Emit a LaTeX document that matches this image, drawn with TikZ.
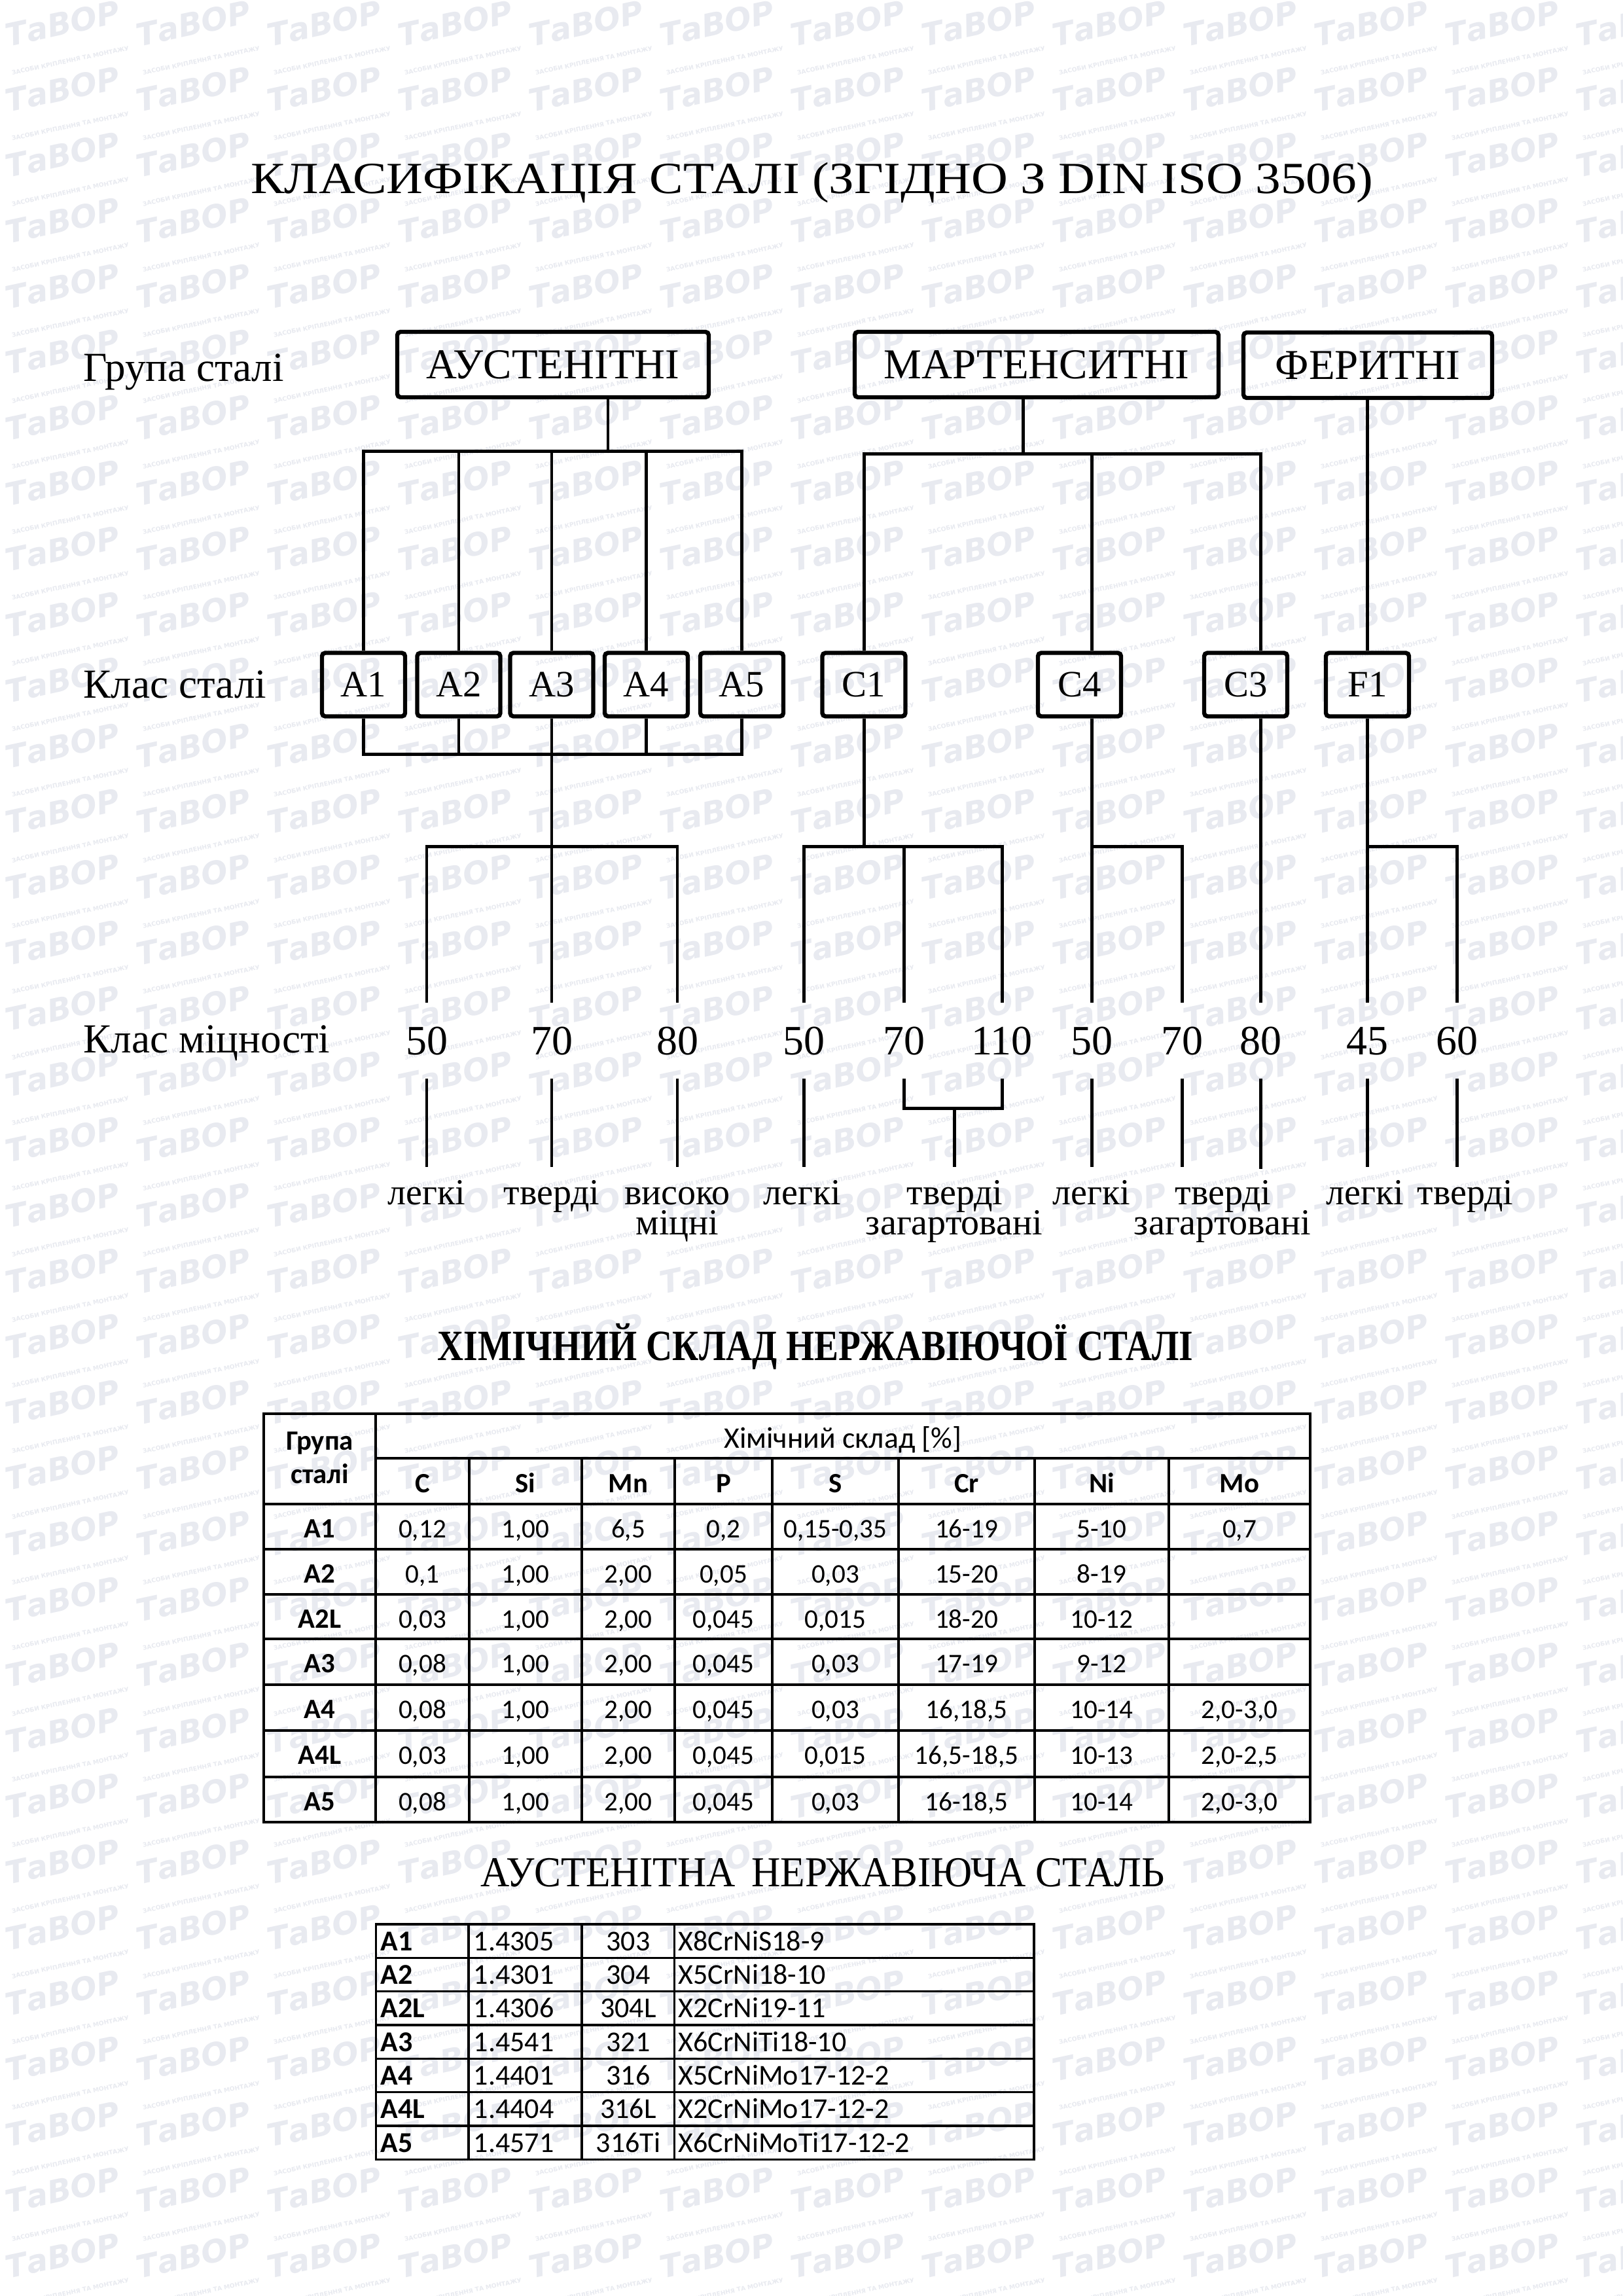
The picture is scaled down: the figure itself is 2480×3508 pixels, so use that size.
\documentclass[tikz,border=0pt]{standalone}
\usepackage{fontspec}
\usepackage{graphicx}
\setmainfont{Liberation Serif}
\newfontfamily\tabfont{Carlito}
\newfontfamily\wmfont{DejaVu Sans}
\definecolor{wmcol}{RGB}{232,234,240}
\newcommand\fgrp{\fontsize{15.66pt}{18pt}\selectfont}
\newcommand\fcls{\fontsize{13.7pt}{16pt}\selectfont}
\newcommand\flab{\fontsize{15.2pt}{18pt}\selectfont}
\newcommand\fnum{\fontsize{15.4pt}{18pt}\selectfont}
\newcommand\fsml{\fontsize{13.5pt}{16pt}\selectfont}
\newcommand\ftab{\tabfont\fontsize{9.9pt}{12pt}\selectfont}
\newcommand\ftabh{\tabfont\fontsize{10.3pt}{12pt}\selectfont}
\newcommand\ftabt{\tabfont\fontsize{10.6pt}{12pt}\selectfont}
\newcommand\fwm{\wmfont\bfseries\itshape\fontsize{11.5pt}{12pt}\selectfont}
\newcommand\fwms{\wmfont\bfseries\fontsize{2.2pt}{2.6pt}\selectfont}
% table 1 row: y, name, C, Si, Mn, P, S, Cr, Ni
\newcommand\trow[9]{%
  \node[tb] (r#2-g) at (488.5,#1) {#2};
  \node[tc] (r#2-c) at (645.5,#1) {#3};
  \node[tc] (r#2-si) at (803,#1) {#4};
  \node[tc] (r#2-mn) at (960,#1) {#5};
  \node[tc] (r#2-p) at (1105.5,#1) {#6};
  \node[tc] (r#2-s) at (1276.5,#1) {#7};
  \node[tc] (r#2-cr) at (1477,#1) {#8};
  \node[tc] (r#2-ni) at (1683.5,#1) {#9};
}
% table 2 row: y, name, number, aisi, grade
\newcommand\trowb[5]{%
  \node[t2b] (q#2-a) at (581,#1) {#2};
  \node[t2l] (q#2-b) at (723,#1) {#3};
  \node[t2c] (q#2-c) at (960,#1) {#4};
  \node[t2l] (q#2-d) at (1036,#1) {#5};
}
\begin{document}
\begin{tikzpicture}[x=0.240931pt,y=-0.240931pt,
  con/.style={line width=1.2pt},
  grpbox/.style={draw, line width=1.55pt, rounded corners=1.2pt, minimum height=24.09pt, inner sep=0pt, font=\fgrp, text height=10.4pt, text depth=0pt},
  clsbox/.style={draw, line width=1.55pt, rounded corners=1.2pt, minimum width=30.6pt, minimum height=23.37pt, inner sep=0pt, font=\fcls, text height=9.07pt, text depth=0pt},
  num/.style={inner sep=0pt, minimum height=27.47pt, font=\fnum, text height=10.4pt, text depth=0pt},
  lbl/.style={inner sep=0pt, anchor=north, font=\fsml, text height=13.73pt, text depth=0pt},
  lbltwo/.style={inner sep=0pt, anchor=base, font=\fsml},
  rowlab/.style={inner sep=0pt, anchor=base west, font=\flab},
  tline/.style={line width=0.8pt},
  tc/.style={inner sep=0pt, anchor=base, font=\ftab},
  tb/.style={inner sep=0pt, anchor=base, font=\ftabh\bfseries},
  t2l/.style={inner sep=0pt, anchor=base west, font=\ftabt},
  t2b/.style={inner sep=0pt, anchor=base west, font=\ftabt\bfseries},
  t2c/.style={inner sep=0pt, anchor=base, font=\ftabt},
  wm/.style={text=wmcol, rotate=12, inner sep=0pt, align=center}
]
\fill[white] (0,0) rectangle (2480,3508);
\path[use as bounding box] (0,0) rectangle (2480,3508);

% watermark
\foreach \i in {0,...,12}{
  \foreach \j in {0,...,34}{
    \node[wm] (wm-\i-\j) at ({100+200*\i},{57+100.3*\j}) {{\fwm ТаВОР}\\[-1.5pt]{\fwms ЗАСОБИ КРІПЛЕННЯ ТА МОНТАЖУ}};
  }
}

% title
\node[anchor=base, inner sep=0pt] (title) at (1241,295) {\resizebox{413.4pt}{\height}{\fontsize{16.4pt}{19pt}\selectfont КЛАСИФІКАЦІЯ СТАЛІ (ЗГІДНО З DIN ISO 3506)}};

% row labels
\node[rowlab] (lgrp) at (127,582) {Група сталі};
\node[rowlab] (lcls) at (127,1066) {Клас сталі};
\node[rowlab] (lstr) at (127,1608) {Клас міцності};

% group boxes
\node[grpbox, minimum width=114.68pt] (aus) at (845,557) {АУСТЕНІТНІ};
\node[grpbox, minimum width=133.96pt] (mar) at (1584,557) {МАРТЕНСИТНІ};
\node[grpbox, minimum width=91.55pt] (fer) at (2090,558) {ФЕРИТНІ};

% class boxes
\node[clsbox] (A1) at (555.5,1046) {A1};
\node[clsbox] (A2) at (701,1046) {A2};
\node[clsbox] (A3) at (843,1046) {A3};
\node[clsbox] (A4) at (987.5,1046) {A4};
\node[clsbox] (A5) at (1133.5,1046) {A5};
\node[clsbox] (C1) at (1320,1046) {C1};
\node[clsbox] (C4) at (1649.5,1046) {C4};
\node[clsbox] (C3) at (1903.5,1046) {C3};
\node[clsbox] (F1) at (2089.5,1046) {F1};

% strength numbers
\node[num] (n50a) at (652,1590) {50};
\node[num] (n70a) at (843,1590) {70};
\node[num] (n80a) at (1035,1590) {80};
\node[num] (n50b) at (1228,1590) {50};
\node[num] (n70b) at (1381,1590) {70};
\node[num] (n110) at (1531,1590) {110};
\node[num] (n50c) at (1668,1590) {50};
\node[num] (n70c) at (1806,1590) {70};
\node[num] (n80c) at (1926,1590) {80};
\node[num] (n45) at (2089.5,1590) {45};
\node[num] (n60) at (2226,1590) {60};

% bottom labels
\node[lbl] (l1) at (652,1783) {легкі};
\node[lbl] (l2) at (843,1783) {тверді};
\node[lbl] (l3) at (1035,1783) {високо};
\node[lbltwo] (l3b) at (1035,1886) {міцні};
\node[lbl] (l4) at (1226,1783) {легкі};
\node[lbl] (l5) at (1459,1783) {тверді};
\node[lbltwo] (l5b) at (1458,1886) {загартовані};
\node[lbl] (l6) at (1668,1783) {легкі};
\node[lbl] (l7) at (1869,1783) {тверді};
\node[lbltwo] (l7b) at (1868,1886) {загартовані};
\node[lbl] (l8) at (2086,1783) {легкі};
\node[lbl] (l9) at (2239,1783) {тверді};

% junction coordinates
\coordinate (jA1) at (929,689);
\coordinate (jA2) at (843,1152);
\coordinate (jA3) at (843,1293);
\coordinate (jM1) at (1563,693);
\coordinate (jC1) at (1320,1293);
\coordinate (jC1b) at (1458,1693);

% austenitic connectors
\draw[con] (aus.south -| jA1) -- (jA1);
\draw[con] (A1.north) |- (jA1) -| (A5.north);
\foreach \n in {A2,A3,A4} \draw[con] (\n.north) -- (\n.north |- jA1);
\draw[con] (A1.south) |- (jA2) -| (A5.south);
\foreach \n in {A2,A3,A4} \draw[con] (\n.south) -- (\n.south |- jA2);
\draw[con] (jA2) -- (jA3);
\draw[con] (n50a.north) |- (jA3) -| (n80a.north);
\draw[con] (n70a.north) -- (jA3);

% martensitic connectors
\draw[con] (mar.south -| jM1) -- (jM1);
\draw[con] (C1.north) |- (jM1) -| (C3.north -| n80c);
\draw[con] (C4.north -| n50c) -- (n50c |- jM1);
\draw[con] (C1.south) -- (jC1);
\draw[con] (n50b.north) |- (jC1) -| (n110.north);
\draw[con] (n70b.north) -- (n70b.north |- jC1);
\draw[con] (C4.south -| n50c) -- (n50c.north);
\draw[con] (n50c.north |- jC1) -| (n70c.north);
\draw[con] (C3.south -| n80c) -- (n80c.north);

% ferritic connectors
\draw[con] (fer.south -| F1.north) -- (F1.north);
\draw[con] (F1.south) -- (n45.north);
\draw[con] (n45.north |- jC1) -| (n60.north);

% lower connectors
\draw[con] (n50a.south) -- (l1.north);
\draw[con] (n70a.south) -- (l2.north);
\draw[con] (n80a.south) -- (l3.north);
\draw[con] (n50b.south) -- (n50b.south |- l4.north);
\draw[con] (n70b.south) |- (jC1b) -| (n110.south);
\draw[con] (jC1b) -- (jC1b |- l5.north);
\draw[con] (n50c.south) -- (l6.north);
\draw[con] (n70c.south) -- (n70c.south |- l7.north);
\draw[con] (n80c.south) -- ++(0,138);
\draw[con] (n45.south) -- (n45.south |- l8.north);
\draw[con] (n60.south) -- (n60.south |- l9.north);

% heading 2
\node[anchor=base, inner sep=0pt] (h2) at (1246,2078) {\resizebox{278.3pt}{\height}{\fontsize{15.9pt}{19pt}\selectfont\bfseries ХІМІЧНИЙ СКЛАД НЕРЖАВІЮЧОЇ СТАЛІ}};

% table 1 grid
\draw[tline] (403,2160) rectangle (2002,2784);
\draw[tline] (574,2160) -- (574,2784);
\draw[tline] (574,2228) -- (2002,2228);
\foreach \y in {2298,2367,2436,2504,2574,2644,2715} \draw[tline] (403,\y) -- (2002,\y);
\foreach \x in {717,889,1031,1180,1373,1581,1786} \draw[tline] (\x,2228) -- (\x,2784);

% table 1 header
\node[tc, font=\tabfont\fontsize{11pt}{13pt}\selectfont] (thead) at (1288,2212) {Хімічний склад [\%]};
\node[tb] (tg1) at (488.5,2215) {Група};
\node[tb] (tg2) at (488.5,2266) {сталі};
\node[tb] (eC) at (645.5,2280) {C};
\node[tb] (eSi) at (803,2280) {Si};
\node[tb] (eMn) at (960,2280) {Mn};
\node[tb] (eP) at (1105.5,2280) {P};
\node[tb] (eS) at (1276.5,2280) {S};
\node[tb] (eCr) at (1477,2280) {Cr};
\node[tb] (eNi) at (1683.5,2280) {Ni};
\node[tb] (eMo) at (1894,2280) {Mo};

% table 1 rows
\trow{2349}{A1}{0,12}{1,00}{6,5}{0,2}{0,15-0,35}{16-19}{5-10}
\trow{2418}{A2}{0,1}{1,00}{2,00}{0,05}{0,03}{15-20}{8-19}
\trow{2487}{A2L}{0,03}{1,00}{2,00}{0,045}{0,015}{18-20}{10-12}
\trow{2555}{A3}{0,08}{1,00}{2,00}{0,045}{0,03}{17-19}{9-12}
\trow{2625}{A4}{0,08}{1,00}{2,00}{0,045}{0,03}{16,18,5}{10-14}
\trow{2695}{A4L}{0,03}{1,00}{2,00}{0,045}{0,015}{16,5-18,5}{10-13}
\trow{2766}{A5}{0,08}{1,00}{2,00}{0,045}{0,03}{16-18,5}{10-14}
\node[tc] (rA1-mo) at (1894,2349) {0,7};
\node[tc] (rA4-mo) at (1894,2625) {2,0-3,0};
\node[tc] (rA4L-mo) at (1894,2695) {2,0-2,5};
\node[tc] (rA5-mo) at (1894,2766) {2,0-3,0};

% heading 3
\node[anchor=base, inner sep=0pt] (h3) at (1257,2882) {\resizebox{251.8pt}{\height}{\fontsize{15.7pt}{19pt}\selectfont АУСТЕНІТНА\hspace{0.4em}НЕРЖАВІЮЧА СТАЛЬ}};

% table 2 grid
\draw[tline] (574.5,2940) rectangle (1580,3299.4);
\foreach \x in {716,889,1030.5} \draw[tline] (\x,2940) -- (\x,3299.4);
\foreach \y in {2991.4,3042.7,3094,3145.4,3196.7,3248} \draw[tline] (574.5,\y) -- (1580,\y);

% table 2 rows
\trowb{2980}{A1}{1.4305}{303}{X8CrNiS18-9}
\trowb{3031.4}{A2}{1.4301}{304}{X5CrNi18-10}
\trowb{3082.7}{A2L}{1.4306}{304L}{X2CrNi19-11}
\trowb{3134}{A3}{1.4541}{321}{X6CrNiTi18-10}
\trowb{3185.4}{A4}{1.4401}{316}{X5CrNiMo17-12-2}
\trowb{3236.7}{A4L}{1.4404}{316L}{X2CrNiMo17-12-2}
\trowb{3288}{A5}{1.4571}{316Ti}{X6CrNiMoTi17-12-2}
\end{tikzpicture}
\end{document}
